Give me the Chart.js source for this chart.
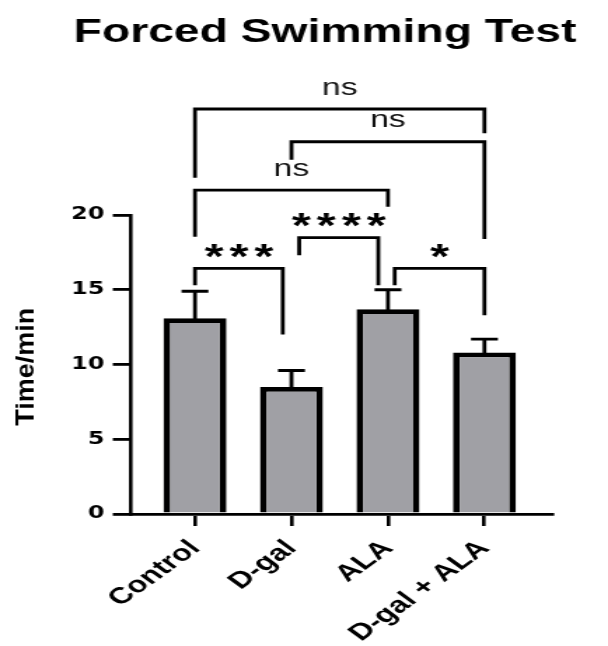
<!DOCTYPE html>
<html>
<head>
<meta charset="utf-8">
<script src="https://cdn.jsdelivr.net/npm/chart.js@4/dist/chart.umd.min.js"></script>
<style>
  html, body { margin: 0; padding: 0; background: #fff; overflow: hidden; }
  /* the reference is stretched sideways, so the chart is drawn narrow and widened */
  #wrap { width: 434px; height: 646px; transform: scaleX(1.401); transform-origin: 0 0; }
</style>
</head>
<body>
<div id="wrap"><canvas id="chart" width="434" height="646"></canvas></div>
<script>
const groups = ['Control', 'D-gal', 'ALA', 'D-gal + ALA'];
const means = [13.1, 8.5, 13.7, 10.8];
const errTop = [14.9, 9.6, 15.0, 11.7]; // mean + SEM
const yTicks = [0, 5, 10, 15, 20];

// significance brackets (x in group units, y in minutes)
const compLabel = ['***', '****', '*', 'ns', 'ns', 'ns'];
const compFrom = [0, 1.08, 2.07, 0, 1, 0];
const compTo = [0.91, 1.9, 3, 2, 3, 3];
const compLevel = [16.43, 18.48, 16.43, 21.67, 24.9, 27.09];
const legLeft = [15.3, 17.3, 15.3, 18.55, 23.7, 22.5];
const legRight = [12.0, 15.3, 13.3, 20.55, 18.4, 25.46];

const FONT = "'Liberation Sans', Arial, sans-serif";

function drawCentered(ctx, text, cx, cy) {
  const m = ctx.measureText(text);
  ctx.fillText(text, cx, cy + (m.actualBoundingBoxAscent - m.actualBoundingBoxDescent) / 2);
}

const extras = {
  id: 'extras',
  afterDatasetsDraw(chart) {
    const { ctx, scales: { x, y } } = chart;
    ctx.save();
    ctx.strokeStyle = '#000';
    ctx.fillStyle = '#000';

    // error bars (upper only)
    ctx.lineWidth = 2.8;
    means.forEach((m, i) => {
      const px = x.getPixelForValue(i);
      const top = y.getPixelForValue(errTop[i]);
      ctx.beginPath();
      ctx.moveTo(px, y.getPixelForValue(m) + 2);
      ctx.lineTo(px, top);
      ctx.moveTo(px - 9.6, top);
      ctx.lineTo(px + 9.6, top);
      ctx.stroke();
    });

    // brackets
    ctx.lineWidth = 2.8;
    ctx.lineJoin = 'miter';
    compLabel.forEach((lab, i) => {
      const x1 = x.getPixelForValue(compFrom[i]);
      const x2 = x.getPixelForValue(compTo[i]);
      const yl = y.getPixelForValue(compLevel[i]);
      ctx.beginPath();
      ctx.moveTo(x1, y.getPixelForValue(legLeft[i]));
      ctx.lineTo(x1, yl);
      ctx.lineTo(x2, yl);
      ctx.lineTo(x2, y.getPixelForValue(legRight[i]));
      ctx.stroke();

      const cx = (x1 + x2) / 2;
      ctx.textAlign = 'center';
      ctx.textBaseline = 'alphabetic';
      if (lab === 'ns') {
        ctx.fillStyle = '#111';
        ctx.font = '24px ' + FONT;
        drawCentered(ctx, 'ns', cx, yl - 21);
      } else {
        ctx.fillStyle = '#000';
        ctx.font = 'bold 35px ' + FONT;
        const gap = 17.8;
        const n = lab.length;
        for (let k = 0; k < n; k++) {
          drawCentered(ctx, '*', cx + (k - (n - 1) / 2) * gap, yl - 17.7);
        }
      }
    });

    // title
    ctx.fillStyle = '#000';
    ctx.textAlign = 'center';
    ctx.textBaseline = 'alphabetic';
    ctx.font = 'bold 33px ' + FONT;
    ctx.fillText('Forced Swimming Test', 232, 41.7);

    // y axis title
    ctx.save();
    ctx.translate(17, 366.7);
    ctx.rotate(-Math.PI / 2);
    ctx.scale(1.42, 1);
    ctx.font = 'bold 19px ' + FONT;
    drawCentered(ctx, 'Time/min', 0, 0);
    ctx.restore();

    ctx.restore();
  }
};

new Chart(document.getElementById('chart'), {
  type: 'bar',
  data: {
    datasets: [{
      data: means.map((v, i) => ({ x: i, y: v })),
      backgroundColor: '#a0a0a5',
      borderColor: '#000',
      borderWidth: 4.8,
      categoryPercentage: 1,
      barPercentage: 0.653
    }]
  },
  options: {
    responsive: false,
    animation: false,
    devicePixelRatio: 1,
    layout: { padding: { top: 215, right: 40, left: 0, bottom: 0 } },
    plugins: { legend: { display: false }, tooltip: { enabled: false }, title: { display: false } },
    scales: {
      x: {
        type: 'linear',
        offset: false,
        min: -0.663,
        max: 3.70,
        afterBuildTicks: s => { s.ticks = groups.map((g, i) => ({ value: i })); },
        afterFit: s => { s.height = 132; },
        ticks: {
          callback: v => groups[v],
          autoSkip: false,
          minRotation: 45,
          maxRotation: 45,
          padding: 9,
          color: '#000',
          font: { family: FONT, size: 23, weight: 'bold' }
        },
        grid: { offset: false, drawOnChartArea: false, drawTicks: true, tickLength: 12, color: '#000', lineWidth: 2.6 },
        border: { color: '#000', width: 2.8 }
      },
      y: {
        min: 0,
        max: 20,
        afterBuildTicks: s => { s.ticks = yTicks.map(v => ({ value: v })); },
        afterFit: s => { s.width = 93.5; },
        ticks: {
          padding: 6,
          color: '#000',
          font: { family: "'DejaVu Sans', sans-serif", size: 17, weight: 'bold' }
        },
        grid: { drawOnChartArea: false, drawTicks: true, tickLength: 13, color: '#000', lineWidth: 2.8 },
        border: { color: '#000', width: 2.6 }
      }
    }
  },
  plugins: [extras]
});
</script>
</body>
</html>
